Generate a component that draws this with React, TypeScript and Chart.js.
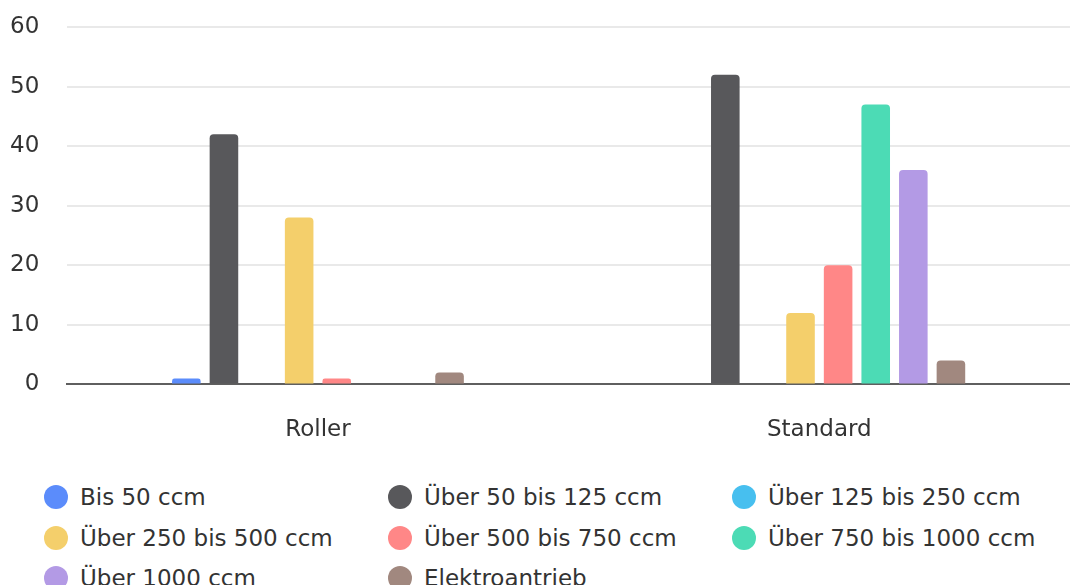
import React, { useEffect, useRef } from "react";
import { Chart, registerables } from "chart.js";

Chart.register(...registerables);

const categories = ["Roller", "Standard"];
const seriesNames = [
  "Bis 50 ccm",
  "Über 50 bis 125 ccm",
  "Über 125 bis 250 ccm",
  "Über 250 bis 500 ccm",
  "Über 500 bis 750 ccm",
  "Über 750 bis 1000 ccm",
  "Über 1000 ccm",
  "Elektroantrieb",
];
const seriesColors = [
  "#5B8CFB",
  "#58585B",
  "#47BFEF",
  "#F4CF6B",
  "#FF8787",
  "#4CDBB5",
  "#B39AE5",
  "#A1887F",
];
const bis50 = [1, 0];
const ueber50bis125 = [42, 52];
const ueber125bis250 = [0, 0];
const ueber250bis500 = [28, 12];
const ueber500bis750 = [1, 20];
const ueber750bis1000 = [0, 47];
const ueber1000 = [0, 36];
const elektro = [2, 4];
const seriesValues = [
  bis50,
  ueber50bis125,
  ueber125bis250,
  ueber250bis500,
  ueber500bis750,
  ueber750bis1000,
  ueber1000,
  elektro,
];
const yTicks = [0, 10, 20, 30, 40, 50, 60];

const FONT = "'DejaVu Sans', sans-serif";

export default function App() {
  const ref = useRef<HTMLCanvasElement | null>(null);

  useEffect(() => {
    document.body.style.margin = "0";
    if (!ref.current) return;
    const chart = new Chart(ref.current, {
      type: "bar",
      data: {
        labels: categories,
        datasets: seriesNames.map((name, i) => ({
          label: name,
          data: seriesValues[i],
          backgroundColor: seriesColors[i],
          borderRadius: 4,
          borderSkipped: "bottom",
          categoryPercentage: 0.6,
          barPercentage: 0.76,
        })),
      },
      options: {
        animation: false,
        responsive: true,
        maintainAspectRatio: false,
        layout: { padding: { left: 10, right: 0, top: 27, bottom: 16 } },
        plugins: {
          legend: { display: false },
          tooltip: { enabled: false },
        },
        scales: {
          x: {
            grid: {
              display: true,
              drawOnChartArea: false,
              drawTicks: true,
              tickLength: 32,
              tickColor: "rgba(0,0,0,0)",
            },
            border: { display: true, color: "#5f5f5f", width: 2 },
            ticks: {
              padding: 0,
              color: "#333",
              font: { family: FONT, size: 23 },
            },
          },
          y: {
            min: 0,
            max: 60,
            afterBuildTicks: (axis: any) => {
              axis.ticks = yTicks.map((v) => ({ value: v }));
            },
            grid: {
              color: "#e9e9e9",
              lineWidth: 2,
              drawTicks: true,
              tickLength: 28,
              tickColor: "rgba(0,0,0,0)",
            },
            border: { display: false },
            ticks: {
              padding: 0,
              color: "#333",
              font: { family: FONT, size: 23 },
            },
          },
        },
      },
    });
    return () => chart.destroy();
  }, []);

  return (
    <div style={{ width: 1070, fontFamily: FONT }}>
      <div style={{ position: "relative", width: 1070, height: 460 }}>
        <canvas ref={ref} />
      </div>
      <div
        style={{
          display: "grid",
          gridTemplateColumns: "344px 344px 344px",
          paddingLeft: 44,
          paddingTop: 25,
          rowGap: 16.5,
        }}
      >
        {seriesNames.map((name, i) => (
          <div
            key={name}
            style={{ display: "flex", alignItems: "center", height: 24 }}
          >
            <span
              style={{
                display: "inline-block",
                width: 24,
                height: 24,
                borderRadius: "50%",
                background: seriesColors[i],
                marginRight: 12,
                flex: "none",
              }}
            />
            <span style={{ fontSize: 23, color: "#333", whiteSpace: "nowrap" }}>
              {name}
            </span>
          </div>
        ))}
      </div>
    </div>
  );
}
